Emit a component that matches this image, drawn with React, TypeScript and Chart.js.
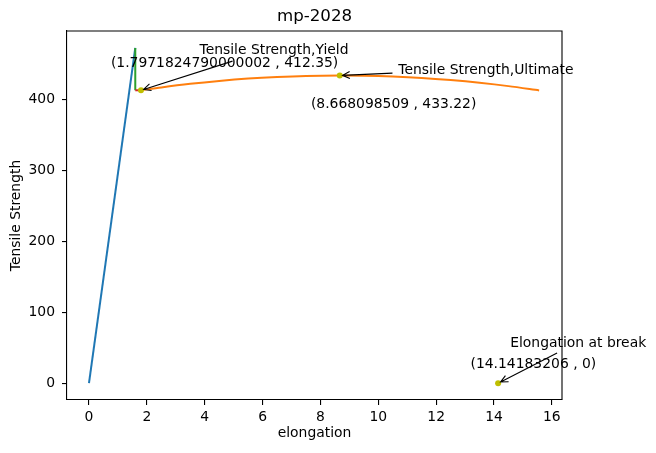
import { useEffect, useRef } from "react";
import { Chart, registerables } from "chart.js";

Chart.register(...registerables);

// stress-strain segments
const elasticX = [0, 1.6];
const elasticY = [0, 472];
const offsetX = [1.6, 1.6];
const offsetY = [472, 412.35];
const yieldStepX = [1.6, 1.7971824790000002];
const yieldStepY = [412.35, 412.35];
const plasticX = [1.797, 2.5, 3.5, 4.5, 5.5, 6.5, 7.5, 8.668, 9.5, 10.5, 11.5, 12.5, 13.5, 14.5, 15.56];
const plasticY = [412.35, 416.4, 421.4, 425.5, 428.8, 431.1, 432.6, 433.22, 432.9, 431.7, 429.7, 426.7, 422.9, 418.2, 412.2];

// key points: yield, ultimate, break
const keyX = [1.7971824790000002, 8.668098509, 14.14183206];
const keyY = [412.35, 433.22, 0];

const xTicks = [0, 2, 4, 6, 8, 10, 12, 14, 16];
const yTicks = [0, 100, 200, 300, 400];

const labels = [
  { text: "Tensile Strength,Yield", x: 6.395, y: 463.3, align: "center" },
  { text: "(1.7971824790000002 , 412.35)", x: 4.686, y: 445.7, align: "center" },
  { text: "Tensile Strength,Ultimate", x: 10.69, y: 435.1, align: "left" },
  { text: "(8.668098509 , 433.22)", x: 10.53, y: 386.9, align: "center" },
  { text: "Elongation at break", x: 14.56, y: 51.5, align: "left" },
  { text: "(14.14183206 , 0)", x: 15.36, y: 21.1, align: "center" },
];

const arrows = [
  { fromX: 4.962, fromY: 453.4, toX: keyX[0], toY: keyY[0] },
  { fromX: 10.49, fromY: 436.5, toX: keyX[1], toY: keyY[1] },
  { fromX: 16.18, fromY: 42.6, toX: keyX[2], toY: keyY[2] },
];

const FONT = '"DejaVu Sans", sans-serif';
const pts = (xs: number[], ys: number[]) => xs.map((x, i) => ({ x, y: ys[i] }));

const decorPlugin = {
  id: "decor",
  afterDraw(chart: any) {
    const { ctx, chartArea: a, scales } = chart;
    const sx = scales.x;
    const sy = scales.y;
    ctx.save();
    // top + right spines
    ctx.strokeStyle = "#000";
    ctx.lineWidth = 1.1;
    ctx.beginPath();
    ctx.moveTo(a.left, a.top);
    ctx.lineTo(a.right, a.top);
    ctx.lineTo(a.right, a.bottom);
    ctx.stroke();

    // arrows
    ctx.lineWidth = 1.1;
    arrows.forEach((ar) => {
      const x0 = sx.getPixelForValue(ar.fromX);
      const y0 = sy.getPixelForValue(ar.fromY);
      const x1r = sx.getPixelForValue(ar.toX);
      const y1r = sy.getPixelForValue(ar.toY);
      const ang = Math.atan2(y1r - y0, x1r - x0);
      const x1 = x1r - Math.cos(ang) * 2.8;
      const y1 = y1r - Math.sin(ang) * 2.8;
      ctx.beginPath();
      ctx.moveTo(x0, y0);
      ctx.lineTo(x1, y1);
      ctx.moveTo(x1 - Math.cos(ang - 0.45) * 8, y1 - Math.sin(ang - 0.45) * 8);
      ctx.lineTo(x1, y1);
      ctx.lineTo(x1 - Math.cos(ang + 0.45) * 8, y1 - Math.sin(ang + 0.45) * 8);
      ctx.stroke();
    });

    // annotation texts
    ctx.fillStyle = "#000";
    ctx.font = `13.9px ${FONT}`;
    ctx.textBaseline = "alphabetic";
    labels.forEach((l) => {
      ctx.textAlign = l.align;
      ctx.fillText(l.text, sx.getPixelForValue(l.x), sy.getPixelForValue(l.y));
    });

    // title and axis titles
    const cx = (a.left + a.right) / 2;
    ctx.textAlign = "center";
    ctx.font = `16.67px ${FONT}`;
    ctx.fillText("mp-2028", cx, 21);
    ctx.font = `13.9px ${FONT}`;
    ctx.fillText("elongation", cx, 437);
    ctx.translate(19.5, (a.top + a.bottom) / 2);
    ctx.rotate(-Math.PI / 2);
    ctx.fillText("Tensile Strength", 0, 0);
    ctx.restore();
  },
};

const App = () => {
  const canvasRef = useRef<HTMLCanvasElement>(null);

  useEffect(() => {
    if (!canvasRef.current) return;
    const line = (data: any, color: string, order: number) => ({
      data,
      showLine: true,
      borderColor: color,
      borderWidth: 2,
      pointRadius: 0,
      fill: false,
      order,
    });
    const chart = new Chart(canvasRef.current, {
      type: "scatter",
      data: {
        datasets: [
          {
            data: pts(keyX, keyY),
            backgroundColor: "#bfbf00",
            borderColor: "#bfbf00",
            pointRadius: 3,
            pointBorderWidth: 0,
            showLine: false,
            order: 0,
          },
          { ...line(pts(plasticX, plasticY), "#ff7f0e", 1), tension: 0.3 },
          line(pts(yieldStepX, yieldStepY), "#d62728", 2),
          line(pts(offsetX, offsetY), "#2ca02c", 3),
          line(pts(elasticX, elasticY), "#1f77b4", 4),
        ] as any,
      },
      options: {
        animation: false,
        responsive: false,
        layout: { padding: { left: 0, top: 31, right: 94, bottom: 0 } },
        plugins: {
          legend: { display: false },
          title: { display: false },
          tooltip: { enabled: false },
        },
        scales: {
          x: {
            type: "linear",
            min: -0.76,
            max: 16.35,
            afterFit: (s: any) => {
              s.height = 53;
            },
            afterBuildTicks: (s: any) => {
              s.ticks = xTicks.map((v) => ({ value: v }));
            },
            ticks: {
              color: "#000",
              font: { family: FONT, size: 13.9 },
              padding: 4,
              maxRotation: 0,
              callback: (v: any) => String(v),
            },
            grid: {
              drawOnChartArea: false,
              drawTicks: true,
              tickLength: 5,
              color: "#000",
              lineWidth: 1.1,
            },
            border: { display: true, color: "#000", width: 1.1 },
          },
          y: {
            type: "linear",
            min: -23.6,
            max: 495.8,
            afterFit: (s: any) => {
              s.width = 67;
            },
            afterBuildTicks: (s: any) => {
              s.ticks = yTicks.map((v) => ({ value: v }));
            },
            ticks: {
              color: "#000",
              font: { family: FONT, size: 13.9 },
              padding: 7,
              callback: (v: any) => String(v),
            },
            grid: {
              drawOnChartArea: false,
              drawTicks: true,
              tickLength: 5,
              color: "#000",
              lineWidth: 1.1,
            },
            border: { display: true, color: "#000", width: 1.1 },
          },
        },
      } as any,
      plugins: [decorPlugin],
    });
    return () => chart.destroy();
  }, []);

  return (
    <div style={{ position: "fixed", left: 0, top: 0, width: 656, height: 453, background: "#fff" }}>
      <canvas ref={canvasRef} width={656} height={453} />
    </div>
  );
};

export default App;
